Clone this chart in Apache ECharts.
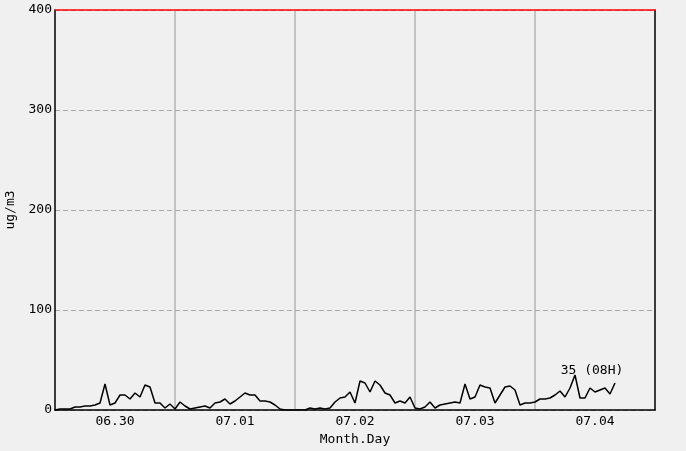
<!DOCTYPE html>
<html>
<head>
<meta charset="utf-8">
<script src="https://cdn.jsdelivr.net/npm/echarts@6/dist/echarts.min.js"></script>
<style>
html,body{margin:0;padding:0;background:#f0f0f0;}
#c{width:686px;height:451px;}
</style>
</head>
<body>
<div id="c"></div>
<script>
// Day labels (tick labels) and hourly values (ug/m3)
const dayLabels = ['06.30', '07.01', '07.02', '07.03', '07.04'];
const v0630 = [0,1,1,1,3,3,4,4,5,7,26,5,7,15,15,11,17,13,25,23,7,7,2,6];
const v0701 = [1,8,4,1,2,3,4,2,7,8,11,6,9,13,17,15,15,9,9,8,5,1,0,0];
const v0702 = [0,0,0,2,1,2,1,2,8,12,13,18,7,29,27,18,29,25,17,15,7,9,7,13];
const v0703 = [2,1,3,8,2,5,6,7,8,7,26,11,13,25,23,22,7,15,23,24,20,5,7,7];
const v0704 = [8,11,11,12,15,19,13,22,35,12,12,22,18,20,22,16,27];
const peakText = '35 (08H)';

const categories = [];
dayLabels.forEach(d => { for (let h = 0; h < 24; h++) categories.push(d + ' ' + String(h).padStart(2,'0') + 'H'); });
categories.push('07.05 00H');
const values = [].concat(v0630, v0701, v0702, v0703, v0704);

const font = 'DejaVu Sans Mono';
const chart = echarts.init(document.getElementById('c'));
chart.setOption({
  backgroundColor: '#f0f0f0',
  animation: false,
  grid: { left: 55, right: 31, top: 10, bottom: 41, containLabel: false, outerBoundsMode: 'none' },
  xAxis: [{
    type: 'category',
    data: categories,
    boundaryGap: false,
    name: 'Month.Day',
    nameLocation: 'middle',
    nameGap: 22,
    nameTextStyle: { fontFamily: font, fontSize: 13, color: '#000' },
    axisLine: { onZero: false, lineStyle: { color: '#000', width: 1.5 } },
    axisTick: { show: false },
    axisLabel: {
      interval: i => i % 24 === 12,
      formatter: v => v.slice(0, 5),
      fontFamily: font, fontSize: 13, color: '#000', margin: 5
    },
    splitLine: {
      show: true,
      interval: i => i % 24 === 0 && i > 0 && i < 120,
      lineStyle: { color: '#b4b4b4', width: 1.5, type: 'solid' }
    }
  }, {
    type: 'category',
    data: categories,
    boundaryGap: false,
    position: 'top',
    axisLine: { onZero: false, lineStyle: { color: '#ff0000', width: 1.5 } },
    axisTick: { show: false },
    axisLabel: { show: false },
    splitLine: { show: false }
  }],
  yAxis: [{
    type: 'value',
    min: 0, max: 400, interval: 100,
    name: 'ug/m3',
    nameLocation: 'middle',
    nameGap: 34,
    nameTextStyle: { fontFamily: font, fontSize: 13, color: '#000' },
    axisLine: { show: true, onZero: false, lineStyle: { color: '#000', width: 1.5 } },
    axisTick: { show: false },
    axisLabel: { fontFamily: font, fontSize: 13, color: '#000', margin: 3 },
    splitLine: { show: true, lineStyle: { color: '#aaaaaa', width: 1, type: [5, 3] } }
  }, {
    type: 'value',
    min: 0, max: 400, interval: 100,
    position: 'right',
    axisLine: { show: true, onZero: false, lineStyle: { color: '#000', width: 1.5 } },
    axisTick: { show: false },
    axisLabel: { show: false },
    splitLine: { show: false }
  }],
  series: [{
    type: 'line',
    data: values,
    showSymbol: false,
    symbol: 'none',
    lineStyle: { color: '#000', width: 1.5 },
    markPoint: {
      symbol: 'circle',
      symbolSize: 0,
      data: [{ type: 'max' }],
      label: {
        show: true,
        position: 'top',
        distance: 0,
        offset: [17, 2],
        fontFamily: font, fontSize: 13, color: '#000',
        formatter: () => peakText
      }
    }
  }]
});
</script>
</body>
</html>
